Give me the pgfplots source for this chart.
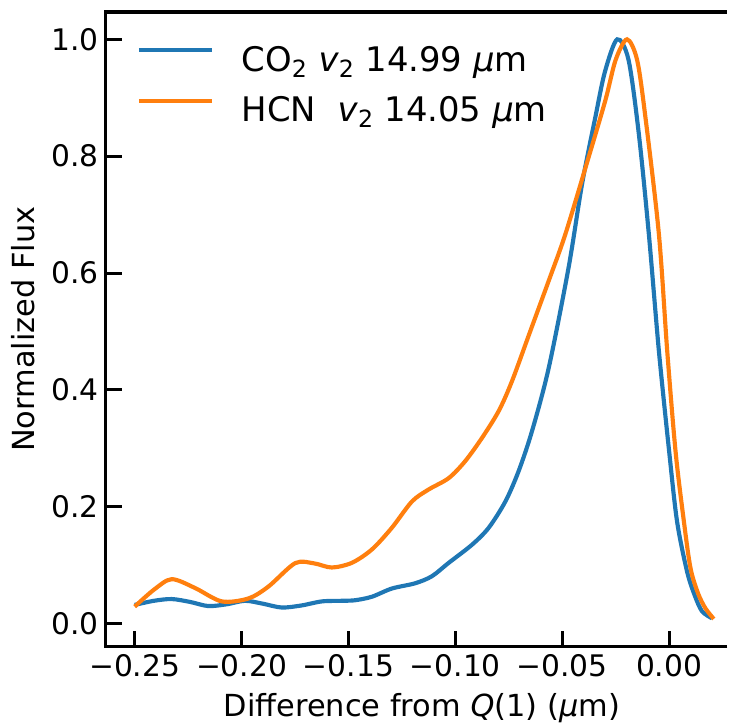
\documentclass[border=0pt]{standalone}
\usepackage{fontspec}
\setmainfont{DejaVu Sans}
\usepackage{pgfplots}
\pgfplotsset{compat=1.18}
\definecolor{mplblue}{HTML}{1F77B4}
\definecolor{mplorange}{HTML}{FF7F0E}
\begin{document}
\begin{tikzpicture}
\begin{axis}[
  name=ax,
  scale only axis, width=450pt, height=459.5pt,
  xmin=-0.2636, xmax=0.0272, ymin=-0.0395, ymax=1.047,
  axis line style={draw=none},
  tick pos=left, tick align=inside,
  major tick length=11.5pt,
  every tick/.style={black, line width=2.2pt},
  xtick={-0.25,-0.2,-0.15,-0.1,-0.05,0},
  xticklabels={−0.25,−0.20,−0.15,−0.10,−0.05,0.00},
  ytick={0,0.2,0.4,0.6,0.8,1.0},
  yticklabels={0.0,0.2,0.4,0.6,0.8,1.0},
  minor tick num=0,
  tick label style={font=\fontsize{21.5}{25}\selectfont},
  xticklabel style={yshift=-2pt},
  yticklabel style={xshift=-1.5pt},
  label style={font=\fontsize{22}{26}\selectfont},
  xlabel={Difference from \textit{Q}(1) (\textit{μ}m)},
  xlabel style={xshift=4pt},
  xlabel shift=5pt,
  ylabel={Normalized Flux},
  ylabel shift=5pt,
  legend style={draw=none, fill=none, at={(0.0496,0.946)}, anchor=north west,
    font=\fontsize{24.5}{28}\selectfont, inner sep=0pt, row sep=13pt, column sep=20pt,
    nodes={inner sep=0pt, text height=18pt, text depth=5.5pt}},
  legend cell align=left,
  legend image code/.code={\draw[#1] (0pt,9pt) -- (53pt,9pt);},
]
\addplot[mplblue, line width=3pt, smooth, tension=0.5] coordinates {
(-0.250,0.032) (-0.241,0.039) (-0.2327,0.042) (-0.224,0.037) (-0.2156,0.030)
(-0.207,0.033) (-0.1984,0.039) (-0.190,0.034) (-0.1812,0.0275) (-0.172,0.031)
(-0.1624,0.038) (-0.1530,0.039) (-0.1468,0.040) (-0.139,0.046) (-0.1297,0.060)
(-0.1188,0.069) (-0.111,0.081) (-0.1031,0.104) (-0.0922,0.135) (-0.0844,0.164)
(-0.0766,0.209) (-0.0704,0.261) (-0.0641,0.330) (-0.0563,0.438) (-0.047,0.610)
(-0.0407,0.753) (-0.0345,0.867) (-0.030,0.945) (-0.0243,1.000) (-0.019,0.965)
(-0.0142,0.839) (-0.0095,0.667) (-0.0048,0.467) (0.000,0.295) (0.0037,0.175)
(0.0084,0.089) (0.012,0.048) (0.0154,0.021) (0.0201,0.009)
};
\addlegendentry{CO\textsubscript{2} \textit{v}\textsubscript{2} 14.99 \textit{μ}m}
\addplot[mplorange, line width=3pt, smooth, tension=0.5] coordinates {
(-0.250,0.029) (-0.241,0.058) (-0.2327,0.076) (-0.2218,0.061) (-0.2093,0.038)
(-0.1968,0.043) (-0.1874,0.0635) (-0.1749,0.1035) (-0.166,0.103) (-0.1578,0.096)
(-0.1484,0.104) (-0.139,0.127) (-0.1297,0.164) (-0.1203,0.209) (-0.1125,0.2295)
(-0.1031,0.249) (-0.0954,0.278) (-0.0875,0.318) (-0.0797,0.364) (-0.0735,0.415)
(-0.065,0.500) (-0.0563,0.587) (-0.0485,0.667) (-0.0376,0.799) (-0.0298,0.896)
(-0.025,0.965) (-0.0197,1.000) (-0.015,0.965) (-0.0111,0.867) (-0.0048,0.667)
(-0.0009,0.467) (0.003,0.295) (0.0069,0.175) (0.010,0.095) (0.0135,0.052)
(0.017,0.026) (0.0209,0.008)
};
\addlegendentry{HCN\ \ \textit{v}\textsubscript{2} 14.05 \textit{μ}m}
\end{axis}
\draw[line width=2.5pt, line join=miter] (ax.south east) -- (ax.south west) -- (ax.north west) -- (ax.north east);
\path ([yshift=8.6pt]ax.north west);
\path ([xshift=-5pt]current bounding box.west);
\end{tikzpicture}
\end{document}
